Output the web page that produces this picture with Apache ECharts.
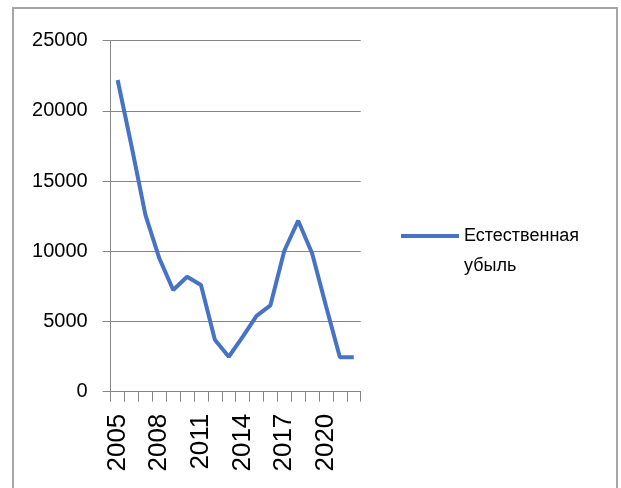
<!DOCTYPE html>
<html><head><meta charset="utf-8">
<script src="https://cdn.jsdelivr.net/npm/echarts@6/dist/echarts.min.js"></script>
<style>html,body{margin:0;padding:0;background:#fff}#c{width:621px;height:488px}</style>
</head><body><div id="c"></div>
<script>
var years = ['2005','2006','2007','2008','2009','2010','2011','2012','2013','2014','2015','2016','2017','2018','2019','2020','2021','2022'];
var decline = [22200, 17500, 12600, 9500, 7240, 8190, 7600, 3700, 2490, 3900, 5400, 6150, 10040, 12180, 9860, 6100, 2450, 2450];
var seriesName = 'Естественная убыль';
var yTicks = {min: 0, max: 25000, interval: 5000};

var chart = echarts.init(document.getElementById('c'), null, {renderer: 'canvas'});
var gray = '#868686';
chart.setOption({
  animation: false,
  backgroundColor: '#fff',
  textStyle: {fontFamily: 'Liberation Sans, Arial, sans-serif'},
  graphic: [{
    type: 'rect', shape: {x: 13, y: 8, width: 604, height: 500},
    style: {fill: 'none', stroke: '#a6a6a6', lineWidth: 2}, silent: true
  }],
  grid: {left: 110.7, right: 260.3, top: 40.7, bottom: 96.3, containLabel: false},
  xAxis: {
    type: 'category', data: years, boundaryGap: true,
    axisLine: {lineStyle: {color: gray, width: 1}},
    axisTick: {show: true, interval: 0, length: 10, lineStyle: {color: gray}},
    axisLabel: {interval: 2, rotate: 90, margin: 22, color: '#000', fontSize: 26, fontFamily: 'Liberation Sans'}
  },
  yAxis: {
    type: 'value', min: yTicks.min, max: yTicks.max, interval: yTicks.interval,
    axisLine: {show: true, lineStyle: {color: gray, width: 1}},
    axisTick: {show: true, length: 8, lineStyle: {color: gray}},
    axisLabel: {margin: 23, color: '#000', fontSize: 20, fontFamily: 'Liberation Sans',
      formatter: function (v) { return String(v); }},
    splitLine: {show: true, lineStyle: {color: gray, width: 1}}
  },
  legend: {
    orient: 'vertical', left: 396, top: 186,
    itemWidth: 58, itemHeight: 4, itemGap: 0,
    icon: 'rect',
    data: [{name: seriesName, icon: 'rect'}],
    formatter: function (n) { return ' \nЕстественная\nубыль'; },
    textStyle: {fontSize: 18, color: '#000', lineHeight: 30, padding: [0, 0, 0, 0], fontFamily: 'Liberation Sans'}
  },
  series: [{
    name: seriesName, type: 'line', data: decline,
    symbol: 'none', smooth: false,
    lineStyle: {color: '#4673C5', width: 4},
    itemStyle: {color: '#4673C5'}
  }]
});
</script></body></html>
